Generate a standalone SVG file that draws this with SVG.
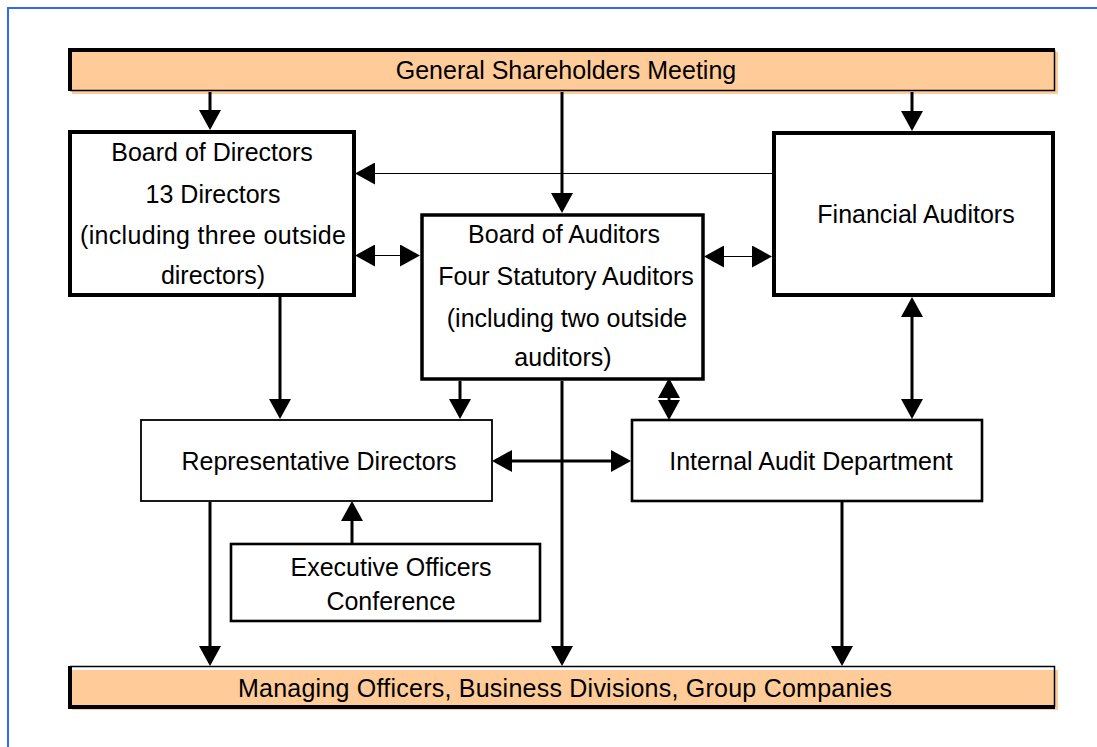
<svg xmlns="http://www.w3.org/2000/svg" width="1097" height="747" viewBox="0 0 1097 747">
  <style>
    text { font-family: "Liberation Sans", Arial, sans-serif; font-size: 25px; fill: #000; text-anchor: middle; }
    .bar { fill: #FFCC99; }
    .edge { stroke: #000; fill: none; }
    .box { fill: #fff; stroke: #000; }
    .thick { stroke: #000; stroke-width: 3; fill: none; }
    .thin { stroke: #000; stroke-width: 1; fill: none; }
  </style>
  <defs>
    <marker id="ah" markerUnits="userSpaceOnUse" markerWidth="20" markerHeight="22" viewBox="0 0 20 22" refX="17" refY="11" orient="auto-start-reverse">
      <path d="M0,0 L20,11 L0,22 Z" fill="#000"/>
    </marker>
  </defs>

  <rect width="1097" height="747" fill="#fff"/>
  <!-- page frame -->
  <rect x="8" y="8" width="1100" height="760" fill="none" stroke="#3366FF" stroke-width="2"/>

  <!-- top bar -->
  <g id="shareholders">
    <rect class="bar" x="72" y="52" width="986" height="42"/>
    <path class="edge" stroke-width="1.5" d="M70,90.5 H1054.5 V50"/>
    <path class="edge" stroke-width="4" d="M70,91 V50 H1055"/>
    <text x="566" y="79">General Shareholders Meeting</text>
  </g>

  <g id="board-directors">
    <rect class="box" x="70" y="132" width="284" height="163" stroke-width="4"/>
    <text x="212" y="161">Board of Directors</text>
    <text x="213" y="203">13 Directors</text>
    <text x="213" y="244" textLength="266" lengthAdjust="spacing">(including three outside</text>
    <text x="213" y="284">directors)</text>
  </g>

  <g id="financial-auditors">
    <rect class="box" x="774" y="133" width="279" height="162" stroke-width="4"/>
    <text x="916" y="223">Financial Auditors</text>
  </g>

  <g id="board-auditors">
    <rect class="box" x="422" y="215" width="281" height="164" stroke-width="3.5"/>
    <text x="564" y="243">Board of Auditors</text>
    <text x="566" y="285">Four Statutory Auditors</text>
    <text x="567" y="327">(including two outside</text>
    <text x="563" y="366">auditors)</text>
  </g>

  <g id="representative-directors">
    <rect class="box" x="141" y="420" width="351" height="81" stroke-width="1.8"/>
    <text x="319" y="470">Representative Directors</text>
  </g>

  <g id="internal-audit">
    <rect class="box" x="632" y="420" width="350" height="81" stroke-width="2.6"/>
    <text x="811" y="470">Internal Audit Department</text>
  </g>

  <g id="executive-officers">
    <rect class="box" x="231" y="544" width="309" height="77" stroke-width="2.6"/>
    <text x="391" y="576">Executive Officers</text>
    <text x="391" y="610">Conference</text>
  </g>

  <!-- bottom bar -->
  <g id="operations">
    <rect class="bar" x="72" y="670" width="986" height="40"/>
    <path class="edge" stroke-width="1.5" d="M70,666.5 H1054.5 V707"/>
    <path class="edge" stroke-width="4" d="M70,666 V707 H1055"/>
    <text x="565" y="697" textLength="654" lengthAdjust="spacing">Managing Officers, Business Divisions, Group Companies</text>
  </g>

  <g id="connectors">
    <path class="thick" d="M210,92 V127" marker-end="url(#ah)"/>
    <path class="thick" d="M562,92 V210" marker-end="url(#ah)"/>
    <path class="thick" d="M912,92 V128" marker-end="url(#ah)"/>
    <path class="thin" d="M772,173.5 H358" marker-end="url(#ah)"/>
    <path class="thin" d="M358,255.5 H417" marker-start="url(#ah)" marker-end="url(#ah)"/>
    <path class="thin" d="M707,256.5 H769" marker-start="url(#ah)" marker-end="url(#ah)"/>
    <path class="thick" d="M280,297 V416" marker-end="url(#ah)"/>
    <path class="thick" d="M460,381 V416" marker-end="url(#ah)"/>
    <path class="thick" d="M562,381 V663" marker-end="url(#ah)"/>
    <path class="thick" d="M669,381 V417" marker-start="url(#ah)" marker-end="url(#ah)"/>
    <path class="thick" d="M912,300 V416" marker-start="url(#ah)" marker-end="url(#ah)"/>
    <path class="thick" d="M495,461 H628" marker-start="url(#ah)" marker-end="url(#ah)"/>
    <path class="thick" d="M352,543 V504" marker-end="url(#ah)"/>
    <path class="thick" d="M210,502 V663" marker-end="url(#ah)"/>
    <path class="thick" d="M842,502 V663" marker-end="url(#ah)"/>
  </g>
</svg>
